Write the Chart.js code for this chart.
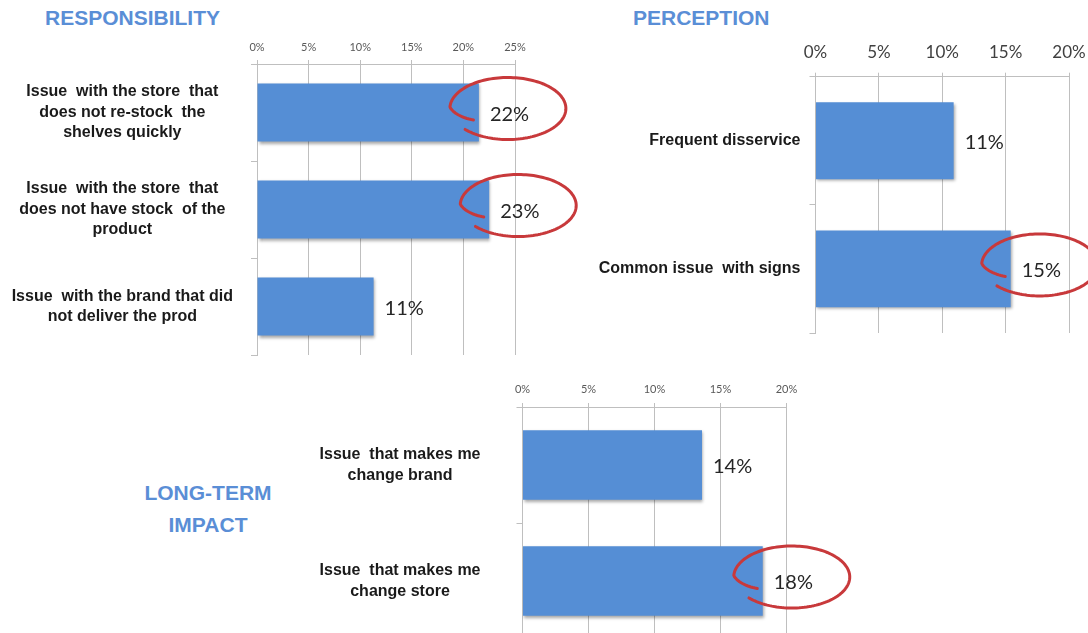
<!DOCTYPE html>
<html>
<head>
<meta charset="utf-8">
<script src="https://cdn.jsdelivr.net/npm/chart.js@4.4.1/dist/chart.umd.min.js"></script>
<style>
    html, body { margin: 0; padding: 0; background: #fff; overflow: hidden; }
    #page { position: relative; width: 1088px; height: 633px; overflow: hidden; }
    canvas { position: absolute; }
    .title {
        position: absolute;
        font-family: 'Liberation Sans', Arial, sans-serif;
        font-weight: bold;
        font-size: 21px;
        line-height: 32px;
        color: #5A8ED6;
        white-space: nowrap;
    }
</style>
</head>
<body>
<div id="page">
    <div class="title" style="left:45px; top:2px;">RESPONSIBILITY</div>
    <div class="title" style="left:633px; top:2px;">PERCEPTION</div>
    <div class="title" style="left:140px; top:477px; width:136px; text-align:center;">LONG-TERM<br>IMPACT</div>
    <canvas id="c1" width="590" height="340" style="left:0; top:30px;"></canvas>
    <canvas id="c2" width="560" height="330" style="left:560px; top:30px;"></canvas>
    <canvas id="c3" width="740" height="290" style="left:130px; top:360px;"></canvas>
</div>
<script>
// Responsibility
const respLabels = [
    ['Issue  with the store  that', 'does not re-stock  the', 'shelves quickly'],
    ['Issue  with the store  that', 'does not have stock  of the', 'product'],
    ['Issue  with the brand that did', 'not deliver the prod']
];
const respValues = [21.5, 22.5, 11.3];
const respCircled = [true, true, false];
const respMax = 25;

// Perception
const percLabels = ['Frequent disservice', 'Common issue  with signs'];
const percValues = [10.9, 15.4];
const percCircled = [false, true];
const percMax = 20;

// Long-term impact
const impactLabels = [
    ['Issue  that makes me', 'change brand'],
    ['Issue  that makes me', 'change store']
];
const impactValues = [13.6, 18.2];
const impactCircled = [false, true];
const impactMax = 20;

const BAR_COLOR = '#558ED5';
const GRID_COLOR = '#BFBFBF';

Chart.defaults.font.family = 'Lato, "Liberation Sans", sans-serif';

// hand drawn red loop around a value label
function drawLoop(ctx, cx, cy, rx, ry) {
    ctx.save();
    ctx.strokeStyle = '#C8393B';
    ctx.lineWidth = 3;
    ctx.lineCap = 'round';
    ctx.lineJoin = 'round';
    ctx.beginPath();
    const start = 2.4, sweep = 6.1;
    for (let k = 0; k <= 140; k++) {
        const t = k / 140;
        const a = start - t * sweep;
        const r = t < 0.9 ? 1 : 1 - 0.3 * Math.pow((t - 0.9) / 0.1, 1.2);
        const x = cx + rx * r * Math.cos(a);
        const y = cy + ry * r * Math.sin(a);
        if (k === 0) ctx.moveTo(x, y); else ctx.lineTo(x, y);
    }
    ctx.stroke();
    ctx.restore();
}

const barExtras = {
    id: 'barExtras',
    beforeDatasetsDraw(chart) {
        const ctx = chart.ctx;
        ctx.save();
        ctx.shadowColor = 'rgba(0,0,0,0.35)';
        ctx.shadowBlur = 3;
        ctx.shadowOffsetX = 1;
        ctx.shadowOffsetY = 2;
    },
    afterDatasetsDraw(chart, args, opts) {
        const ctx = chart.ctx;
        ctx.restore();
        const meta = chart.getDatasetMeta(0);
        const values = chart.data.datasets[0].data;
        meta.data.forEach((bar, i) => {
            ctx.save();
            ctx.font = '20px Lato, "Liberation Sans", sans-serif';
            ctx.fillStyle = '#262626';
            ctx.textAlign = 'left';
            ctx.textBaseline = 'middle';
            ctx.fillText(Math.round(values[i]) + '%', bar.x + 11, bar.y + 2);
            ctx.restore();
            if (opts.circled && opts.circled[i]) {
                drawLoop(ctx, bar.x + 29, bar.y - 4, 58, 31);
            }
        });
    }
};

function buildChart(id, labels, values, circled, max, geo) {
    return new Chart(document.getElementById(id), {
        type: 'bar',
        data: {
            labels: labels,
            datasets: [{
                data: values,
                backgroundColor: BAR_COLOR,
                barPercentage: 0.6,
                categoryPercentage: 1
            }]
        },
        options: {
            indexAxis: 'y',
            responsive: false,
            animation: false,
            devicePixelRatio: 1,
            layout: { padding: geo.padding },
            plugins: {
                legend: { display: false },
                tooltip: { enabled: false },
                barExtras: { circled: circled }
            },
            scales: {
                x: {
                    position: 'top',
                    min: 0,
                    max: max,
                    ticks: {
                        stepSize: 5,
                        callback: v => v + '%',
                        font: { size: geo.tickSize },
                        color: geo.tickColor,
                        padding: geo.tickPad,
                        maxRotation: 0,
                        autoSkip: false
                    },
                    grid: { color: GRID_COLOR, tickLength: 4 },
                    border: { color: GRID_COLOR },
                    afterFit: s => {
                        s.height = geo.axisHeight;
                        s.paddingLeft = 0;
                        s.paddingRight = 0;
                    }
                },
                y: {
                    ticks: {
                        crossAlign: geo.cross,
                        padding: geo.labelPad,
                        font: { family: '"Liberation Sans", Arial, sans-serif', size: 16, weight: 'bold', lineHeight: geo.lineHeight },
                        color: '#1A1A1A'
                    },
                    grid: { drawOnChartArea: false, tickLength: 6, color: GRID_COLOR, offset: true },
                    border: { color: GRID_COLOR },
                    afterFit: s => {
                        s.width = geo.axisWidth;
                        s.paddingTop = 0;
                        s.paddingBottom = 0;
                    }
                }
            }
        },
        plugins: [barExtras]
    });
}

buildChart('c1', respLabels, respValues, respCircled, respMax, {
    padding: { left: 0, top: 0, right: 75, bottom: 15 },
    axisWidth: 257, axisHeight: 34,
    tickSize: 11, tickColor: '#595959', tickPad: 6,
    cross: 'center', labelPad: 18, lineHeight: 1.28
});

buildChart('c2', percLabels, percValues, percCircled, percMax, {
    padding: { left: 0, top: 0, right: 51, bottom: 27 },
    axisWidth: 255.5, axisHeight: 46.7,
    tickSize: 17, tickColor: '#404040', tickPad: 10,
    cross: 'near', labelPad: 9, lineHeight: 1.28
});

buildChart('c3', impactLabels, impactValues, impactCircled, impactMax, {
    padding: { left: 0, top: 0, right: 83.5, bottom: 11 },
    axisWidth: 392.5, axisHeight: 47,
    tickSize: 11, tickColor: '#595959', tickPad: 7,
    cross: 'center', labelPad: 36, lineHeight: 1.3
});
</script>
</body>
</html>
